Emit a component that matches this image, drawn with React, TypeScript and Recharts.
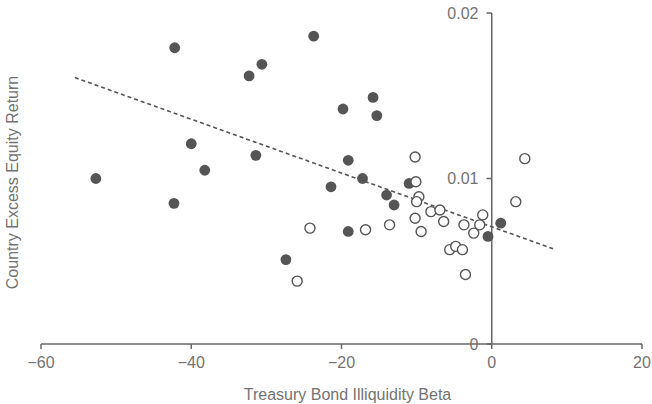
import React from 'react';
import { ScatterChart, Scatter, XAxis, YAxis, ReferenceLine } from 'recharts';

// countries shown with filled markers
const filledBeta = [-52.7, -42.2, -40.0, -38.2, -42.3, -32.3, -30.6, -31.4, -23.7, -27.4, -19.8, -15.8, -15.3, -19.1, -21.4, -17.2, -14.0, -13.0, -11.0, -19.1, -0.5, 1.2];
const filledReturn = [0.0100, 0.0179, 0.0121, 0.0105, 0.0085, 0.0162, 0.0169, 0.0114, 0.0186, 0.0051, 0.0142, 0.0149, 0.0138, 0.0111, 0.0095, 0.0100, 0.0090, 0.0084, 0.0097, 0.0068, 0.0065, 0.0073];

// countries shown with open markers
const openBeta = [-24.2, -25.9, -16.8, -13.6, -10.2, -10.1, -9.7, -10.0, -10.2, -9.4, -8.1, -6.9, -6.4, -5.6, -4.8, -3.9, -3.5, -3.7, -2.4, -1.6, -1.2, 3.2, 4.4];
const openReturn = [0.0070, 0.0038, 0.0069, 0.0072, 0.0113, 0.0098, 0.0089, 0.0086, 0.0076, 0.0068, 0.0080, 0.0081, 0.0074, 0.0057, 0.0059, 0.0057, 0.0042, 0.0072, 0.0067, 0.0072, 0.0078, 0.0086, 0.0112];

// fitted line end points
const fitBeta = [-55.5, 8.5];
const fitReturn = [0.0161, 0.0057];

const xTicks = [-60, -40, -20, 0, 20];
const yTicks = [0, 0.01, 0.02];
const yTickLabels = ['0', '0.01', '0.02'];

const filledData = filledBeta.map((x, i) => ({ x, y: filledReturn[i] }));
const openData = openBeta.map((x, i) => ({ x, y: openReturn[i] }));

const AXIS = '#666';
const TEXT = '#737373';
const MARK = '#555';
const FONT = '"Liberation Sans", Arial, sans-serif';

const FilledDot = (props: any) => <circle cx={props.cx} cy={props.cy} r={5.4} fill={MARK} />;
const OpenDot = (props: any) => (
    <circle cx={props.cx} cy={props.cy} r={5} fill="#fff" stroke={MARK} strokeWidth={1.4} />
);

const YTitle = (props: any) => {
    const vb = props.viewBox;
    const cx = 12;
    const cy = vb.y + vb.height / 2 + 4;
    return (
        <text x={cx} y={cy} transform={`rotate(-90, ${cx}, ${cy})`} textAnchor="middle"
            dominantBaseline="central" fill={TEXT} fontSize={16} fontFamily={FONT}>
            Country Excess Equity Return
        </text>
    );
};

export default function App() {
    return (
        <div style={{ position: 'absolute', left: 0, top: 0, width: 652, height: 404, fontFamily: FONT }}>
            <ScatterChart width={652} height={404} margin={{ top: 13, right: 10, bottom: 0, left: 0 }}>
                <XAxis
                    type="number"
                    dataKey="x"
                    domain={[-60, 20]}
                    ticks={xTicks}
                    tickFormatter={(v: number) => (v < 0 ? `\u2212${Math.abs(v)}` : `${v}`)}
                    stroke={AXIS}
                    strokeWidth={1.5}
                    tickSize={5}
                    tickMargin={8}
                    height={60}
                    tick={{ fill: TEXT, fontSize: 16, fontFamily: FONT }}
                    label={{ value: 'Treasury Bond Illiquidity Beta', position: 'insideBottom', offset: 4, dx: 6, fill: TEXT, fontSize: 16, fontFamily: FONT }}
                />
                <YAxis
                    type="number"
                    dataKey="y"
                    domain={[0, 0.02]}
                    ticks={yTicks}
                    width={41}
                    tick={false}
                    axisLine={false}
                    tickLine={false}
                    label={<YTitle />}
                />
                <ReferenceLine x={0} stroke={AXIS} strokeWidth={1.5} />
                {yTicks.map((t, i) => (
                    <ReferenceLine
                        key={`yt-${i}`}
                        segment={[{ x: -0.7, y: t }, { x: 0, y: t }]}
                        stroke={AXIS}
                        strokeWidth={1.5}
                        label={{ value: yTickLabels[i], position: 'left', offset: 8, fill: TEXT, fontSize: 16, fontFamily: FONT }}
                    />
                ))}
                <ReferenceLine
                    segment={[{ x: fitBeta[0], y: fitReturn[0] }, { x: fitBeta[1], y: fitReturn[1] }]}
                    stroke={MARK}
                    strokeWidth={1.6}
                    strokeDasharray="4 3"
                />
                <Scatter data={filledData} shape={FilledDot} isAnimationActive={false} />
                <Scatter data={openData} shape={OpenDot} isAnimationActive={false} />
            </ScatterChart>
        </div>
    );
}
